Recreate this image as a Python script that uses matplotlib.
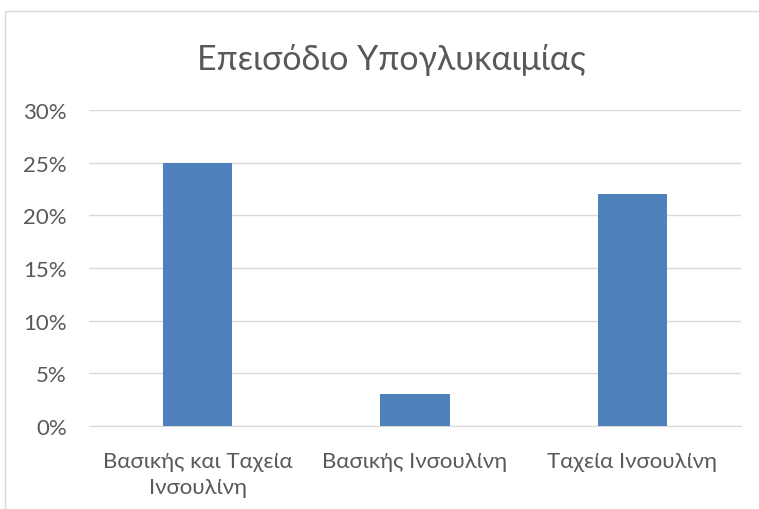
import numpy as np
import matplotlib
matplotlib.use("Agg")
import matplotlib.pyplot as plt
from matplotlib.patches import Rectangle

# ------------------ DATOS ------------------

titulo = "Επεισόδιο Υπογλυκαιμίας"
categorias = ["Βασικής και Ταχεία\nΙνσουλίνη", "Βασικής Ινσουλίνη", "Ταχεία Ινσουλίνη"]
valores = [0.25, 0.03, 0.22]
ticks_y = [0.0, 0.05, 0.10, 0.15, 0.20, 0.25, 0.30]

# ------------------ FIGURA ------------------

plt.rcParams['font.family'] = ['Lato', 'DejaVu Sans']
color_texto = '#595959'

fig = plt.figure(figsize=(7.59, 5.10), dpi=100)
W, H = 759, 510

# marco del gráfico
fig.patches.append(Rectangle((5 / W, -0.05), 1.2, 1 - 12 / H + 0.05,
                             transform=fig.transFigure, fill=False,
                             edgecolor='#D9D9D9', linewidth=1.0))

ax = fig.add_axes([89 / W, 1 - 427 / H, (741 - 89) / W, (427 - 111) / H])

x = np.arange(len(categorias))
ax.bar(x, valores, width=0.318, color='#4F81BD', zorder=3)

ax.set_xlim(-0.5, len(categorias) - 0.5)
ax.set_ylim(0, 0.30)
ax.set_yticks(ticks_y)
ax.set_yticklabels([f"{int(round(t * 100))}%" for t in ticks_y])
ax.set_xticks(x)
ax.set_xticklabels(categorias, linespacing=1.35)

ax.grid(axis='y', color='#D9D9D9', linewidth=1.0, zorder=0)
for s in ['top', 'right', 'left']:
    ax.spines[s].set_visible(False)
ax.spines['bottom'].set_color('#D9D9D9')
ax.tick_params(axis='both', length=0, labelsize=16, colors=color_texto)
ax.tick_params(axis='y', pad=16)
ax.tick_params(axis='x', pad=18)

fig.text(391 / W, 1 - 60 / H, titulo, ha='center', va='center',
         fontsize=24.5, color=color_texto)

fig.savefig("out.png", dpi=100)
